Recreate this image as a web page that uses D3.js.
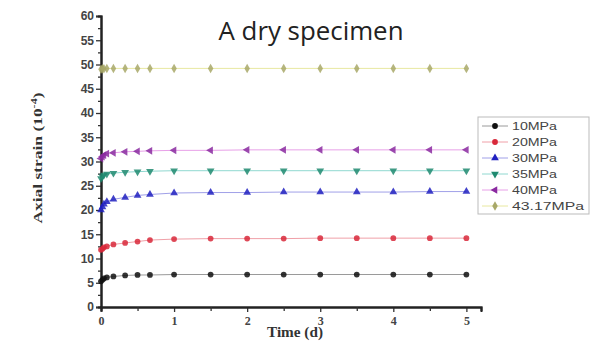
<!DOCTYPE html>
<html><head><meta charset="utf-8">
<script src="https://cdn.jsdelivr.net/npm/d3@7"></script>
<style>body{margin:0;background:#fff}svg{display:block}</style>
</head><body>
<script>
const times = [0, 0.02, 0.04, 0.08, 0.17, 0.33, 0.5, 0.67, 1, 1.5, 2, 2.5, 3, 3.5, 4, 4.5, 5];
const s10 = [5.3, 5.6, 5.9, 6.1, 6.3, 6.5, 6.6, 6.6, 6.7, 6.7, 6.7, 6.7, 6.7, 6.7, 6.7, 6.7, 6.7];
const s20 = [11.8, 12.0, 12.3, 12.5, 12.9, 13.2, 13.5, 13.8, 14.0, 14.1, 14.1, 14.1, 14.2, 14.2, 14.2, 14.2, 14.2];
const s30 = [20.0, 20.6, 21.2, 21.7, 22.2, 22.6, 23.0, 23.2, 23.5, 23.6, 23.6, 23.7, 23.7, 23.7, 23.7, 23.8, 23.8];
const s35 = [26.5, 26.9, 27.2, 27.4, 27.6, 27.8, 27.9, 28.0, 28.1, 28.1, 28.1, 28.1, 28.1, 28.1, 28.1, 28.1, 28.1];
const s40 = [30.6, 31.0, 31.3, 31.6, 31.8, 32.0, 32.1, 32.2, 32.3, 32.3, 32.4, 32.4, 32.4, 32.4, 32.4, 32.4, 32.4];
const s43 = [49.0, 49.1, 49.1, 49.2, 49.2, 49.2, 49.2, 49.2, 49.2, 49.2, 49.2, 49.2, 49.2, 49.2, 49.2, 49.2, 49.2];
const seriesNames = ["10MPa", "20MPa", "30MPa", "35MPa", "40MPa", "43.17MPa"];
const seriesValues = [s10, s20, s30, s35, s40, s43];
const xTicks = [0, 1, 2, 3, 4, 5];
const yTicks = [0, 5, 10, 15, 20, 25, 30, 35, 40, 45, 50, 55, 60];
const title = "A dry specimen";

const colors = ["#111111", "#d8283a", "#2020c0", "#1f8a70", "#8a2aa0", "#a8a868"];
const lineColors = ["#9a9a9a", "#f0a0a8", "#a0a0e8", "#90d8d0", "#e8a0e8", "#e8e8a0"];
const symbols = [d3.symbolCircle, d3.symbolCircle, d3.symbolTriangle, d3.symbolTriangle, d3.symbolTriangle, d3.symbolDiamond];
const rotations = [0, 0, 0, 180, -90, 0];

const W = 590, H = 344;
const svg = d3.select("body").append("svg").attr("width", W).attr("height", H);
const x = d3.scaleLinear().domain([0, 5.2]).range([101, 481]);
const y = d3.scaleLinear().domain([0, 60]).range([307, 16]);

// y axis
const gy = svg.append("g").attr("transform", "translate(101,0)")
  .call(d3.axisLeft(y).tickValues(yTicks).tickSize(5).tickPadding(2));
gy.append("g").call(d3.axisLeft(y).tickValues(d3.range(2.5, 60, 5)).tickSize(3).tickFormat(""));
gy.selectAll(".domain").attr("stroke", "#222").attr("stroke-width", 2);
gy.selectAll(".tick line").attr("stroke", "#333").attr("stroke-width", 1.3);
gy.selectAll("text").attr("font-family", "Liberation Sans, Arial, sans-serif")
  .attr("font-weight", "bold").attr("font-size", 12).attr("fill", "#444");

// x axis
const gx = svg.append("g").attr("transform", "translate(0,307)")
  .call(d3.axisBottom(x).tickValues(xTicks).tickSize(5).tickPadding(4).tickFormat(d3.format("d")));
gx.append("g").call(d3.axisBottom(x).tickValues([0.5,1.5,2.5,3.5,4.5]).tickSize(4).tickFormat(""));
gx.selectAll(".domain").attr("stroke", "#222").attr("stroke-width", 2);
gx.selectAll(".tick line").attr("stroke", "#333").attr("stroke-width", 1.3);
gx.selectAll("text").attr("font-family", "Liberation Serif, Times New Roman, serif")
  .attr("font-weight", "bold").attr("font-size", 12).attr("fill", "#444");

// series
const line = d3.line().x((d, i) => x(times[i])).y(d => y(d));
seriesValues.forEach((vals, k) => {
  svg.append("path").datum(vals).attr("d", line)
    .attr("fill", "none").attr("stroke", lineColors[k]).attr("stroke-width", 1);
  svg.append("g").selectAll("path").data(vals).join("path")
    .attr("transform", (d, i) => `translate(${x(times[i])},${y(d)}) rotate(${rotations[k]})`)
    .attr("d", d3.symbol().type(symbols[k]).size(26))
    .attr("fill", colors[k]).attr("opacity", 0.85);
});

// title
svg.append("text").attr("x", 311).attr("y", 40).attr("text-anchor", "middle")
  .attr("font-family", "Open Sans, sans-serif").attr("font-size", 25).attr("fill", "#222")
  .attr("textLength", 185).attr("lengthAdjust", "spacingAndGlyphs").text(title);

// axis labels
svg.append("text").attr("transform", "translate(42,158) rotate(-90)").attr("text-anchor", "middle")
  .attr("font-family", "Liberation Serif, Times New Roman, serif").attr("font-weight", "bold")
  .attr("font-size", 13).attr("fill", "#333")
  .attr("textLength", 131).attr("lengthAdjust", "spacingAndGlyphs")
  .html('Axial strain (10<tspan dy="-5" font-size="9">-4</tspan><tspan dy="5">)</tspan>');
svg.append("text").attr("x", 295).attr("y", 337).attr("text-anchor", "middle")
  .attr("font-family", "Liberation Serif, Times New Roman, serif").attr("font-weight", "bold")
  .attr("font-size", 14).attr("fill", "#333")
  .attr("textLength", 56).attr("lengthAdjust", "spacingAndGlyphs").text("Time (d)");

// legend
const lg = svg.append("g");
lg.append("rect").attr("x", 478).attr("y", 117).attr("width", 111).attr("height", 97)
  .attr("fill", "#fff").attr("stroke", "#bbb").attr("stroke-width", 1);
seriesNames.forEach((name, k) => {
  const yy = 126 + k * 16;
  lg.append("line").attr("x1", 482).attr("x2", 508).attr("y1", yy).attr("y2", yy)
    .attr("stroke", lineColors[k]).attr("stroke-width", 1);
  lg.append("path").attr("transform", `translate(495,${yy}) rotate(${rotations[k]})`)
    .attr("d", d3.symbol().type(symbols[k]).size(26)).attr("fill", colors[k]);
  lg.append("text").attr("x", 512).attr("y", yy + 4)
    .attr("font-family", "Liberation Sans, Arial, sans-serif").attr("font-size", 11)
    .attr("fill", "#444").attr("textLength", name.length * 9)
    .attr("lengthAdjust", "spacingAndGlyphs").text(name);
});
</script>
</body></html>
